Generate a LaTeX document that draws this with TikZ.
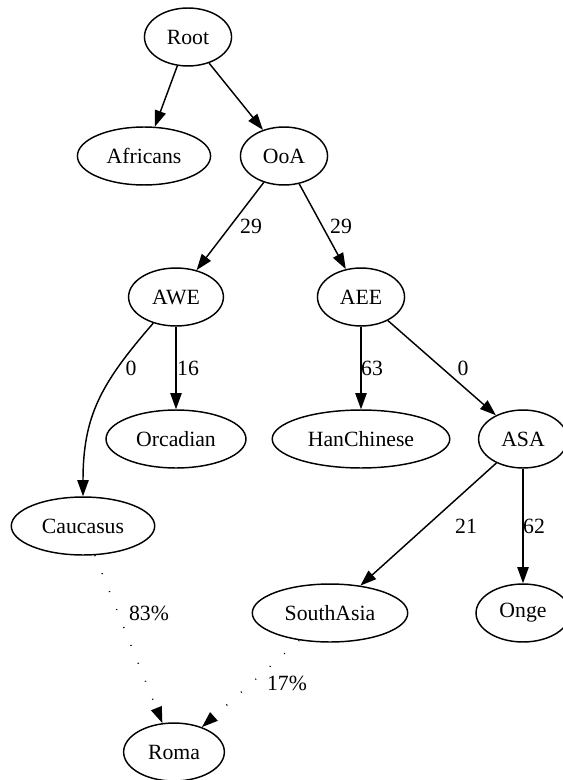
\documentclass[tikz,border=0pt]{standalone}
\usepackage{fontspec}
\setmainfont{Liberation Serif}
\usetikzlibrary{arrows.meta,shapes.geometric}

\begin{document}
\begin{tikzpicture}[x=0.6211pt, y=-0.6211pt, line width=.9pt,
  pop/.style={draw, ellipse, inner xsep=6pt, inner ysep=3pt, minimum height=36pt,
    minimum width=54pt, font=\fontsize{13.5}{16}\selectfont},
  edge/.style={-{Triangle[length=10pt,width=7pt]}},
  mix/.style={edge, dash pattern=on .6pt off 11.4pt},
  lbl/.style={inner sep=0pt, font=\fontsize{13.5}{16}\selectfont}]

\useasboundingbox (0,0) rectangle (562,780);

% populations
\node[pop] (root) at (188,37) {Root};
\node[pop] (afr) at (144,156) {Africans};
\node[pop] (ooa) at (284,156) {OoA};
\node[pop] (awe) at (176,297) {AWE};
\node[pop] (aee) at (361,297) {AEE};
\node[pop] (orc) at (176,439) {Orcadian};
\node[pop] (han) at (361,439) {HanChinese};
\node[pop] (asa) at (523,439) {ASA};
\node[pop] (cau) at (83,526) {Caucasus};
\node[pop] (sas) at (330,613) {SouthAsia};
\node[pop] (onge) at (523,613) {Onge};
\node[pop] (roma) at (174,752) {Roma};

% tree edges with drift
\draw[edge] (root) -- (afr);
\draw[edge] (root) -- (ooa);
\draw[edge] (ooa) -- (awe) node[lbl] (d1) at (251,226) {29};
\draw[edge] (ooa) -- (aee) node[lbl] (d2) at (341,226) {29};
\draw[edge] (awe) to[out=-131,in=90,looseness=1.1] (cau) node[lbl] (d3) at (131,368) {0};
\draw[edge] (awe) -- (orc) node[lbl] (d4) at (188,368) {16};
\draw[edge] (aee) -- (han) node[lbl] (d5) at (372,368) {63};
\draw[edge] (aee) -- (asa) node[lbl] (d6) at (463,368) {0};
\draw[edge] (asa) -- (sas) node[lbl] (d7) at (466,526) {21};
\draw[edge] (asa) -- (onge) node[lbl] (d8) at (534,526) {62};

% admixture
\draw[mix] (cau) -- (roma) node[lbl] (m1) at (149,613) {83\%};
\draw[mix] (sas) -- (roma) node[lbl] (m2) at (287,683) {17\%};

\end{tikzpicture}
\end{document}
